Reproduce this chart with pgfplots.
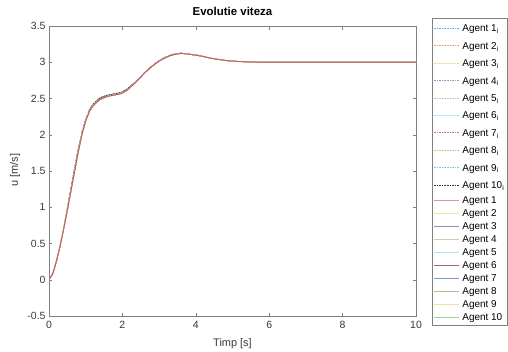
\documentclass[border=0pt]{standalone}
\usepackage{pgfplots}
\pgfplotsset{compat=1.18}
\usepackage{pgfplotstable}
\usepackage{fontspec}
\setmainfont{Liberation Sans}

% MATLAB default line colours
\definecolor{mblue}{rgb}{0,0.447,0.741}
\definecolor{morange}{rgb}{0.85,0.325,0.098}
\definecolor{myellow}{rgb}{0.929,0.694,0.125}
\definecolor{mpurple}{rgb}{0.494,0.184,0.556}
\definecolor{mgreen}{rgb}{0.466,0.674,0.188}
\definecolor{mcyan}{rgb}{0.301,0.745,0.933}
\definecolor{mred}{rgb}{0.635,0.078,0.184}
\definecolor{mtan}{rgb}{0.78,0.62,0.40}
\definecolor{toprd}{rgb}{0.86,0.26,0.36}
\definecolor{axgray}{rgb}{0.50,0.50,0.50}
\definecolor{txgray}{rgb}{0.22,0.22,0.22}
% legend sample colours (washed out)
\definecolor{ls1}{rgb}{0.80,0.62,0.58}
\definecolor{ls2}{rgb}{0.95,0.90,0.62}
\definecolor{ls3}{rgb}{0.62,0.55,0.66}
\definecolor{ls4}{rgb}{0.76,0.82,0.70}
\definecolor{ls5}{rgb}{0.72,0.88,0.95}
\definecolor{ls6}{rgb}{0.62,0.40,0.46}
\definecolor{ls7}{rgb}{0.48,0.62,0.76}
\definecolor{ls8}{rgb}{0.80,0.70,0.58}
\definecolor{ls9}{rgb}{0.93,0.89,0.62}
\definecolor{ls10}{rgb}{0.55,0.85,0.55}

% reference speed profile (dashed)
\pgfplotstableread{
t u
0.0 0.00
0.1 0.08
0.2 0.25
0.3 0.46
0.4 0.71
0.5 0.98
0.6 1.26
0.7 1.54
0.8 1.80
0.9 2.03
1.0 2.21
1.1 2.34
1.2 2.42
1.3 2.47
1.4 2.51
1.5 2.53
1.6 2.545
1.7 2.555
1.8 2.565
1.9 2.575
2.0 2.59
2.1 2.62
2.2 2.66
2.3 2.705
2.4 2.75
2.5 2.80
2.6 2.855
2.7 2.90
2.8 2.945
2.9 2.985
3.0 3.02
3.1 3.05
3.2 3.075
3.3 3.095
3.4 3.11
3.5 3.12
3.6 3.125
3.7 3.12
3.8 3.115
3.9 3.105
4.0 3.10
4.2 3.08
4.4 3.055
4.6 3.04
4.8 3.025
5.0 3.015
5.2 3.01
5.5 3.003
5.8 3.0
6.5 3.0
7.5 3.0
8.5 3.0
10.0 3.0
}\speedref

% agent speed (solid)
\pgfplotstableread{
t u
0.0 0.00
0.1 0.08
0.2 0.25
0.3 0.46
0.4 0.70
0.5 0.96
0.6 1.23
0.7 1.50
0.8 1.77
0.9 2.01
1.0 2.19
1.1 2.32
1.2 2.40
1.3 2.45
1.4 2.49
1.5 2.51
1.6 2.53
1.7 2.54
1.8 2.55
1.9 2.56
2.0 2.575
2.1 2.605
2.2 2.645
2.3 2.695
2.4 2.745
2.5 2.795
2.6 2.85
2.7 2.895
2.8 2.94
2.9 2.98
3.0 3.015
3.1 3.045
3.2 3.07
3.3 3.09
3.4 3.105
3.5 3.115
3.6 3.12
3.7 3.118
3.8 3.113
3.9 3.105
4.0 3.098
4.2 3.08
4.4 3.057
4.6 3.04
4.8 3.026
5.0 3.016
5.2 3.01
5.5 3.003
5.8 3.0
6.5 3.0
7.5 3.0
8.5 3.0
10.0 3.0
}\speed

\newcommand{\dstrut}{\rule[-5.1bp]{0pt}{17.4bp}}
\newcommand{\sstrut}{\rule[-2.9bp]{0pt}{13bp}}

\begin{document}
\begin{tikzpicture}
\useasboundingbox (0,0) rectangle (508bp,352bp);
\begin{axis}[
  at={(49bp,36bp)}, anchor=south west,
  scale only axis, width=367bp, height=290bp,
  xmin=0, xmax=10, ymin=-0.5, ymax=3.5,
  xtick={0,2,...,10}, ytick={-0.5,0,...,3.5},
  tick align=inside, major tick length=3.5bp,
  axis line style={axgray},
  every tick/.style={axgray},
  tick label style={font=\fontsize{10.5}{12}\selectfont, text=txgray},
  /pgf/number format/assume math mode=true,
  xticklabel style={yshift=-1.5bp},
  title={\textbf{Evolutie viteza}},
  title style={at={(axis description cs:0.5,1.031)}, anchor=center,
    font=\fontsize{11.5}{13}\selectfont},
  xlabel={Timp [s]}, ylabel={u [m/s]},
  label style={font=\fontsize{11}{13}\selectfont, text=txgray},
  xlabel style={at={(axis description cs:0.5,-0.095)}, anchor=center},
  ylabel style={at={(axis description cs:-0.0926,0.503)}, anchor=center},
  legend style={at={(axis description cs:1.0436,1.0276)}, anchor=north west,
    draw=axgray, inner sep=1.5bp, column sep=2bp, row sep=0pt,
    font=\fontsize{10}{12}\selectfont,
    nodes={inner ysep=0pt, inner xsep=1bp, text depth=}},
  legend cell align=left,
  legend image code/.code={\draw[#1] (0bp,0bp) -- (25bp,0bp);},
  every axis plot/.append style={line width=0.7bp},
]
% reference trajectories
\addplot[mblue!60, dash pattern=on 1.6bp off 1bp] table {\speedref};
\addlegendentry{Agent 1\textsubscript{i}\dstrut}
\addplot[morange!60, dash pattern=on 1.6bp off 1bp] table {\speedref};
\addlegendentry{Agent 2\textsubscript{i}\dstrut}
\addplot[myellow!60, dash pattern=on 1.6bp off 1bp] table {\speedref};
\addlegendentry{Agent 3\textsubscript{i}\dstrut}
\addplot[mpurple!60, dash pattern=on 1.6bp off 1bp] table {\speedref};
\addlegendentry{Agent 4\textsubscript{i}\dstrut}
\addplot[mtan!70, dash pattern=on 1.6bp off 1bp] table {\speedref};
\addlegendentry{Agent 5\textsubscript{i}\dstrut}
\addplot[mcyan!60, dash pattern=on 1.6bp off 1bp] table {\speedref};
\addlegendentry{Agent 6\textsubscript{i}\dstrut}
\addplot[mred!60, dash pattern=on 1.6bp off 1bp] table {\speedref};
\addlegendentry{Agent 7\textsubscript{i}\dstrut}
\addplot[mgreen!60, dash pattern=on 1.6bp off 1bp] table {\speedref};
\addlegendentry{Agent 8\textsubscript{i}\dstrut}
\addplot[mblue!45!mcyan!60, dash pattern=on 1.6bp off 1bp] table {\speedref};
\addlegendentry{Agent 9\textsubscript{i}\dstrut}
\addplot[black!80, dash pattern=on 1.6bp off 1bp] table {\speedref};
\addlegendentry{Agent 10\textsubscript{i}\dstrut}
% agent speeds
\addplot[ls1] table {\speed};
\addlegendentry{Agent 1\sstrut}
\addplot[ls2] table {\speed};
\addlegendentry{Agent 2\sstrut}
\addplot[ls3] table {\speed};
\addlegendentry{Agent 3\sstrut}
\addplot[ls4] table {\speed};
\addlegendentry{Agent 4\sstrut}
\addplot[ls5] table {\speed};
\addlegendentry{Agent 5\sstrut}
\addplot[ls6] table {\speed};
\addlegendentry{Agent 6\sstrut}
\addplot[ls7] table {\speed};
\addlegendentry{Agent 7\sstrut}
\addplot[ls8] table {\speed};
\addlegendentry{Agent 8\sstrut}
\addplot[ls9] table {\speed};
\addlegendentry{Agent 9\sstrut}
\addplot[ls10] table {\speed};
\addlegendentry{Agent 10\sstrut}
% topmost trace
\addplot[toprd, forget plot] table {\speed};
\end{axis}
\end{tikzpicture}
\end{document}
